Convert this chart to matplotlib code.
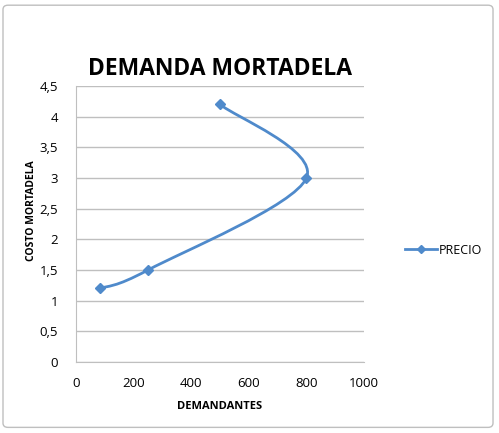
import matplotlib
matplotlib.use("Agg")
import matplotlib.pyplot as plt
from matplotlib.path import Path
from matplotlib.patches import PathPatch, FancyBboxPatch
from matplotlib.lines import Line2D
import numpy as np

# data
demandantes = [85, 250, 800, 500]
precio = [1.2, 1.5, 3.0, 4.2]
series_name = "PRECIO"
title = "DEMANDA MORTADELA"
xlabel = "DEMANDANTES"
ylabel = "COSTO MORTADELA"
xticks = [0, 200, 400, 600, 800, 1000]
yticks = [0, 0.5, 1, 1.5, 2, 2.5, 3, 3.5, 4, 4.5]

color = "#4F8ACB"
font = "Open Sans"

fig = plt.figure(figsize=(4.99, 4.33), dpi=100)
fig.patches.append(FancyBboxPatch((0.006, 0.013), 0.982, 0.975, boxstyle="round,pad=0,rounding_size=0.01",
                                  transform=fig.transFigure, fc="none", ec="#BFBFBF", lw=1.0, zorder=-1))
ax = fig.add_axes([0.1523, 0.164, 0.5772, 0.6374])
ax.set_xlim(0, 1000)
ax.set_ylim(0, 4.5)
ax.set_xticks(xticks)
ax.set_yticks(yticks)
ax.set_xticklabels([str(v) for v in xticks], fontfamily=font, fontsize=9.5)
ax.set_yticklabels([("%g" % v).replace(".", ",") for v in yticks], fontfamily=font, fontsize=9.5)
ax.tick_params(axis="x", length=0, pad=11)
ax.tick_params(axis="y", length=0, pad=13)
ax.grid(axis="y", color="#BFBFBF", lw=1.0)
ax.set_axisbelow(True)
for s in ["top", "right"]:
    ax.spines[s].set_visible(False)
for s in ["left", "bottom"]:
    ax.spines[s].set_color("#BFBFBF")

# smoothed line (Bezier through points)
pts = np.column_stack([demandantes, precio]).astype(float)
n = len(pts)
verts = [tuple(pts[0])]
codes = [Path.MOVETO]
for i in range(n - 1):
    p0 = pts[i - 1] if i > 0 else pts[i]
    p1 = pts[i]
    p2 = pts[i + 1]
    p3 = pts[i + 2] if i + 2 < n else pts[i + 1]
    c1 = p1 + (p2 - p0) / 6.0
    c2 = p2 - (p3 - p1) / 6.0
    verts += [tuple(c1), tuple(c2), tuple(p2)]
    codes += [Path.CURVE4] * 3
ax.add_patch(PathPatch(Path(verts, codes), fc="none", ec=color, lw=2.0, zorder=3))
ax.plot(demandantes, precio, ls="none", marker="D", ms=5, color=color, zorder=4)

ax.set_title(title, fontfamily=font, fontweight="bold", fontsize=16.5, pad=8)
ax.set_xlabel(xlabel, fontfamily=font, fontweight="bold", fontsize=8, labelpad=8)
ax.set_ylabel(ylabel, fontfamily=font, fontweight="bold", fontsize=7.5)
ax.yaxis.set_label_coords(-0.135, 0.55)

handle = Line2D([], [], color=color, lw=2, marker="D", ms=4)
leg = fig.legend([handle], [series_name], loc="center left", bbox_to_anchor=(0.79, 0.422),
                 frameon=False, prop={"family": font, "size": 9}, handlelength=2.5,
                 handletextpad=0.2)

fig.savefig("out.png", dpi=100)
